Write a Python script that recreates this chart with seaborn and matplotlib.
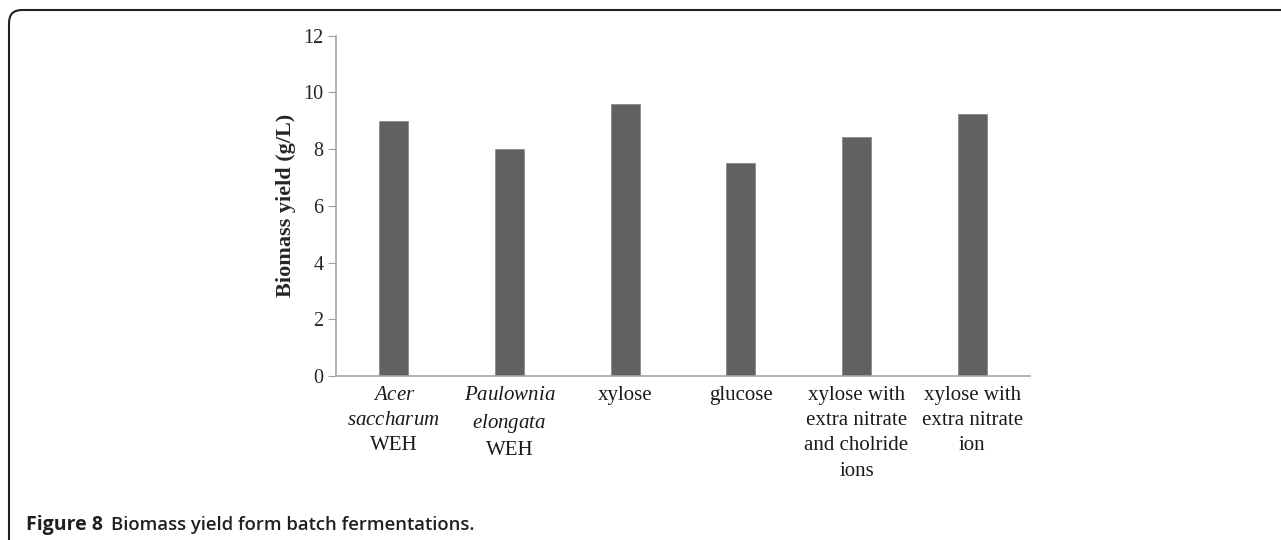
import seaborn as sns
import matplotlib.pyplot as plt
import pandas as pd
from matplotlib.patches import FancyBboxPatch
from matplotlib.transforms import IdentityTransform

# datos
categorias = [
    r"$\mathit{Acer}$" + "\n" + r"$\mathit{saccharum}$" + "\nWEH",
    r"$\mathit{Paulownia}$" + "\n" + r"$\mathit{elongata}$" + "\nWEH",
    "xylose",
    "glucose",
    "xylose with\nextra nitrate\nand cholride\nions",
    "xylose with\nextra nitrate\nion",
]
biomasa = [9.0, 8.0, 9.6, 7.5, 8.42, 9.25]
yticks = [0, 2, 4, 6, 8, 10, 12]

df = pd.DataFrame({"cat": categorias, "val": biomasa})

sns.set_style("white")
plt.rcParams["font.family"] = ["Liberation Serif", "DejaVu Serif"]
plt.rcParams["mathtext.fontset"] = "custom"
plt.rcParams["mathtext.rm"] = "Liberation Serif"
plt.rcParams["mathtext.it"] = "Liberation Serif:italic"

fig = plt.figure(figsize=(12.81, 5.4), dpi=100)
ax = fig.add_axes([336 / 1281, 1 - 376 / 540, (1030 - 336) / 1281, (376 - 35.7) / 540])

sns.barplot(data=df, x="cat", y="val", color="#616161", width=0.25,
            saturation=1, edgecolor="#8a8a8a", linewidth=0.6, ax=ax)

ax.set_ylim(0, 12)
ax.set_yticks(yticks)
ax.set_xlabel("")
ax.set_ylabel("Biomass yield (g/L)", fontsize=16, fontweight="bold", labelpad=5)
ax.tick_params(axis="y", length=6, color="#a0a0a0", labelsize=14.5, pad=3, left=True)
ax.tick_params(axis="x", length=0, labelsize=15, pad=7, colors="#1a1a1a")
for lab in ax.get_xticklabels():
    lab.set_linespacing(1.45)
sns.despine(ax=ax)
for s in ["left", "bottom"]:
    ax.spines[s].set_color("#a6a6a6")
    ax.spines[s].set_linewidth(1.2)

# marco redondeado de la figura (en pixeles)
marco = FancyBboxPatch((9, -60), 1400, 540 - 10 + 60,
                       boxstyle="round,pad=0,rounding_size=13",
                       transform=IdentityTransform(), fill=False,
                       edgecolor="#231f20", linewidth=1.5)
fig.patches.append(marco)

fig.text(26 / 1281, 1 - 530 / 540, "Figure 8", fontsize=14, fontweight="bold",
         family=["Open Sans", "DejaVu Sans"], color="#231f20", va="baseline")
fig.text(111 / 1281, 1 - 530 / 540, "Biomass yield form batch fermentations.", fontsize=13.3,
         fontweight="semibold", family=["Open Sans", "DejaVu Sans"], color="#231f20",
         va="baseline")

fig.savefig("out.png", dpi=100)
